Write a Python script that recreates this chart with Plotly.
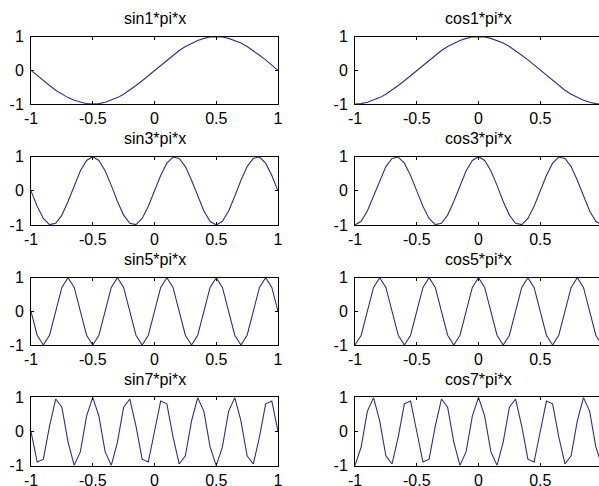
import plotly.graph_objects as go

# sample grid, x = -1 .. 1 in steps of 0.05
x = [-1.0, -0.95, -0.9, -0.85, -0.8, -0.75, -0.7, -0.65, -0.6, -0.55,
     -0.5, -0.45, -0.4, -0.35, -0.3, -0.25, -0.2, -0.15, -0.1, -0.05,
     0.0, 0.05, 0.1, 0.15, 0.2, 0.25, 0.3, 0.35, 0.4, 0.45,
     0.5, 0.55, 0.6, 0.65, 0.7, 0.75, 0.8, 0.85, 0.9, 0.95, 1.0]

sin1 = [0, -.16, -.31, -.45, -.59, -.71, -.81, -.89, -.95, -.99,
        -1, -.99, -.95, -.89, -.81, -.71, -.59, -.45, -.31, -.16,
        0, .16, .31, .45, .59, .71, .81, .89, .95, .99,
        1, .99, .95, .89, .81, .71, .59, .45, .31, .16, 0]
sin3 = [0, -.45, -.81, -.99, -.95, -.71, -.31, .16, .59, .89,
        1, .89, .59, .16, -.31, -.71, -.95, -.99, -.81, -.45,
        0, .45, .81, .99, .95, .71, .31, -.16, -.59, -.89,
        -1, -.89, -.59, -.16, .31, .71, .95, .99, .81, .45, 0]
sin5 = [0, -.71, -1, -.71, 0, .71, 1, .71, 0, -.71,
        -1, -.71, 0, .71, 1, .71, 0, -.71, -1, -.71,
        0, .71, 1, .71, 0, -.71, -1, -.71, 0, .71,
        1, .71, 0, -.71, -1, -.71, 0, .71, 1, .71, 0]
sin7 = [0, -.89, -.81, .16, .95, .71, -.31, -.99, -.59, .45,
        1, .45, -.59, -.99, -.31, .71, .95, .16, -.81, -.89,
        0, .89, .81, -.16, -.95, -.71, .31, .99, .59, -.45,
        -1, -.45, .59, .99, .31, -.71, -.95, -.16, .81, .89, 0]

cos1 = [-1, -.99, -.95, -.89, -.81, -.71, -.59, -.45, -.31, -.16,
        0, .16, .31, .45, .59, .71, .81, .89, .95, .99,
        1, .99, .95, .89, .81, .71, .59, .45, .31, .16,
        0, -.16, -.31, -.45, -.59, -.71, -.81, -.89, -.95, -.99, -1]
cos3 = [-1, -.89, -.59, -.16, .31, .71, .95, .99, .81, .45,
        0, -.45, -.81, -.99, -.95, -.71, -.31, .16, .59, .89,
        1, .89, .59, .16, -.31, -.71, -.95, -.99, -.81, -.45,
        0, .45, .81, .99, .95, .71, .31, -.16, -.59, -.89, -1]
cos5 = [-1, -.71, 0, .71, 1, .71, 0, -.71, -1, -.71,
        0, .71, 1, .71, 0, -.71, -1, -.71, 0, .71,
        1, .71, 0, -.71, -1, -.71, 0, .71, 1, .71,
        0, -.71, -1, -.71, 0, .71, 1, .71, 0, -.71, -1]
cos7 = [-1, -.45, .59, .99, .31, -.71, -.95, -.16, .81, .89,
        0, -.89, -.81, .16, .95, .71, -.31, -.99, -.59, .45,
        1, .45, -.59, -.99, -.31, .71, .95, .16, -.81, -.89,
        0, .89, .81, -.16, -.95, -.71, .31, .99, .59, -.45, -1]

titles = ["sin1*pi*x", "cos1*pi*x", "sin3*pi*x", "cos3*pi*x",
          "sin5*pi*x", "cos5*pi*x", "sin7*pi*x", "cos7*pi*x"]
series = [sin1, cos1, sin3, cos3, sin5, cos5, sin7, cos7]

x_ticks = [-1, -0.5, 0, 0.5, 1]
x_ticktext = ["-1", "-0.5", "0", "0.5", "1"]
y_ticks = [-1, 0, 1]
y_ticktext = ["-1", "0", "1"]

# ── layout geometry (pixels of a 599x486 MATLAB figure) ──────────────────────
W, H = 599, 486
col_px = [(31, 278), (355, 599)]          # right column runs off the page
row_px = [(36.7, 104), (156.7, 225), (277.7, 345), (397.3, 465.7)]
LINE = "#2e2e8c"
FONT = "Liberation Sans, Arial, sans-serif"

fig = go.Figure()
layout = {}
annotations = []

for i, (ys, title) in enumerate(zip(series, titles)):
    r, c = divmod(i, 2)
    n = i + 1
    xa = "x" if n == 1 else f"x{n}"
    ya = "y" if n == 1 else f"y{n}"
    fig.add_trace(go.Scatter(x=x, y=ys, mode="lines", xaxis=xa, yaxis=ya,
                             line=dict(color=LINE, width=1.1), showlegend=False,
                             hoverinfo="skip"))

    x0, x1 = col_px[c]
    y_top, y_bot = row_px[r]
    xr = [-1, 1] if c == 0 else [-1, -1 + 2 * (x1 - x0) / 247.0]
    common = dict(showline=True, linecolor="black", linewidth=1, ticks="inside",
                  ticklen=3, tickcolor="black", showgrid=False, zeroline=False,
                  automargin=False,
                  tickfont=dict(family=FONT, size=16, color="black"))
    layout["xaxis" if n == 1 else f"xaxis{n}"] = dict(
        domain=[x0 / W, x1 / W], range=xr, anchor=ya, mirror="ticks",
        tickvals=x_ticks, ticktext=x_ticktext, ticklabelstandoff=0, **common)
    layout["yaxis" if n == 1 else f"yaxis{n}"] = dict(
        domain=[1 - y_bot / H, 1 - y_top / H], range=[-1, 1], anchor=xa,
        mirror="ticks" if c == 0 else False,
        tickvals=y_ticks, ticktext=y_ticktext, ticklabelstandoff=3, **common)

    annotations.append(dict(text=title, xref="paper", yref="paper",
                            x=(x0 + 123.5) / W, y=1 - y_top / H,
                            xanchor="center", yanchor="middle", yshift=18,
                            showarrow=False,
                            font=dict(family=FONT, size=16, color="black")))

fig.update_layout(**layout)
fig.update_layout(
    width=W, height=H,
    margin=dict(l=0, r=0, t=0, b=0, pad=0),
    paper_bgcolor="white", plot_bgcolor="white",
    annotations=annotations,
)

fig.write_html("out.html", config={"displayModeBar": False},
               post_script="document.body.style.margin='0';"
                           "document.body.style.overflow='hidden';")
